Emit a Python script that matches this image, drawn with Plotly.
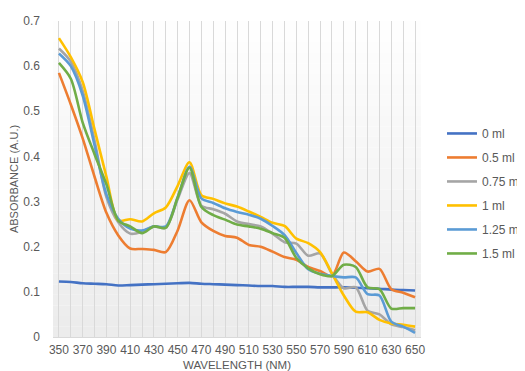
import plotly.graph_objects as go

# wavelength (nm), every 10 nm
wavelength = list(range(350, 660, 10))

ml_0 = [0.123, 0.122, 0.119, 0.118, 0.117, 0.114, 0.115, 0.116, 0.117, 0.118, 0.119,
        0.120, 0.118, 0.117, 0.116, 0.115, 0.114, 0.113, 0.113, 0.111, 0.111, 0.111,
        0.110, 0.110, 0.110, 0.109, 0.108, 0.107, 0.105, 0.104, 0.103]
ml_05 = [0.585, 0.515, 0.440, 0.355, 0.275, 0.225, 0.196, 0.195, 0.193, 0.188, 0.236,
         0.303, 0.254, 0.235, 0.224, 0.220, 0.204, 0.200, 0.189, 0.177, 0.171, 0.155,
         0.146, 0.135, 0.187, 0.168, 0.145, 0.151, 0.106, 0.098, 0.088]
ml_075 = [0.639, 0.610, 0.545, 0.435, 0.310, 0.254, 0.229, 0.233, 0.245, 0.242, 0.305,
          0.363, 0.291, 0.283, 0.273, 0.256, 0.250, 0.245, 0.229, 0.210, 0.207, 0.180,
          0.185, 0.140, 0.108, 0.110, 0.058, 0.050, 0.028, 0.022, 0.015]
ml_1 = [0.662, 0.620, 0.565, 0.460, 0.355, 0.258, 0.261, 0.256, 0.274, 0.287, 0.335,
        0.387, 0.314, 0.306, 0.296, 0.289, 0.278, 0.266, 0.253, 0.246, 0.218, 0.208,
        0.188, 0.141, 0.092, 0.056, 0.055, 0.038, 0.030, 0.027, 0.023]
ml_125 = [0.628, 0.600, 0.535, 0.425, 0.316, 0.262, 0.240, 0.236, 0.245, 0.245, 0.309,
          0.377, 0.307, 0.297, 0.285, 0.277, 0.271, 0.262, 0.246, 0.226, 0.186, 0.150,
          0.140, 0.135, 0.132, 0.132, 0.095, 0.092, 0.034, 0.023, 0.009]
ml_15 = [0.607, 0.572, 0.475, 0.405, 0.338, 0.258, 0.245, 0.230, 0.245, 0.242, 0.309,
         0.375, 0.288, 0.270, 0.260, 0.249, 0.245, 0.240, 0.230, 0.220, 0.175, 0.152,
         0.139, 0.135, 0.160, 0.155, 0.110, 0.106, 0.063, 0.064, 0.064]

y_ticks = [0, 0.1, 0.2, 0.3, 0.4, 0.5, 0.6, 0.7]
x_ticks = list(range(350, 660, 20))

series = [("0 ml", ml_0, "#4472C4"), ("0.5 ml", ml_05, "#ED7D31"),
          ("0.75 ml", ml_075, "#A5A5A5"), ("1 ml", ml_1, "#FFC000"),
          ("1.25 ml", ml_125, "#5B9BD5"), ("1.5 ml", ml_15, "#70AD47")]

fig = go.Figure()
for name, vals, col in series:
    fig.add_trace(go.Scatter(x=wavelength, y=vals, name=name, mode="lines",
                             line=dict(color=col, width=2.6, shape="spline", smoothing=0.8),
                             legendgroup=name))

# plot area gradient: white at the top, light grey at the bottom
nb = 30
for i in range(nb):
    g = int(255 - (255 - 236) * (i + 0.5) / nb)
    fig.add_shape(type="rect", xref="x domain", yref="y domain", x0=0, x1=1,
                  y0=1 - (i + 1) / nb, y1=1 - i / nb, line_width=0,
                  fillcolor=f"rgb({g},{g},{g})", layer="below")

font = "Liberation Sans"
txt = "#595959"
fig.update_layout(
    width=525, height=371,
    margin=dict(l=45, r=95, t=6, b=42),
    paper_bgcolor="white", plot_bgcolor="rgba(0,0,0,0)",
    font=dict(family=font, size=12, color=txt),
    showlegend=True,
    legend=dict(x=1.057, y=0.69, xanchor="left", yanchor="top",
                font=dict(size=12, color=txt), tracegroupgap=5,
                bgcolor="rgba(0,0,0,0)", itemwidth=30),
)
fig.update_xaxes(range=[345, 655], tickvals=x_ticks,
                 showgrid=True, gridcolor="#D9D9D9", gridwidth=1,
                 minor=dict(tick0=350, dtick=10, showgrid=True, gridcolor="#D9D9D9"),
                 showline=True, linecolor="#D9D9D9", zeroline=False, ticks="",
                 tickfont=dict(size=12, color=txt), ticklabelstandoff=2,
                 title=dict(text="WAVELENGTH (NM)", font=dict(size=11.5, color=txt), standoff=4))
fig.update_yaxes(range=[0, 0.7], tickvals=y_ticks, ticktext=[f"{v:g}" for v in y_ticks],
                 showgrid=False, zeroline=False, ticks="", ticklabeloverflow="allow",
                 tickfont=dict(size=12, color=txt), ticklabelstandoff=12,
                 title=dict(text="ABSORBANCE (A.U.)", font=dict(size=11, color=txt), standoff=2))

fig.write_html("out.html")
